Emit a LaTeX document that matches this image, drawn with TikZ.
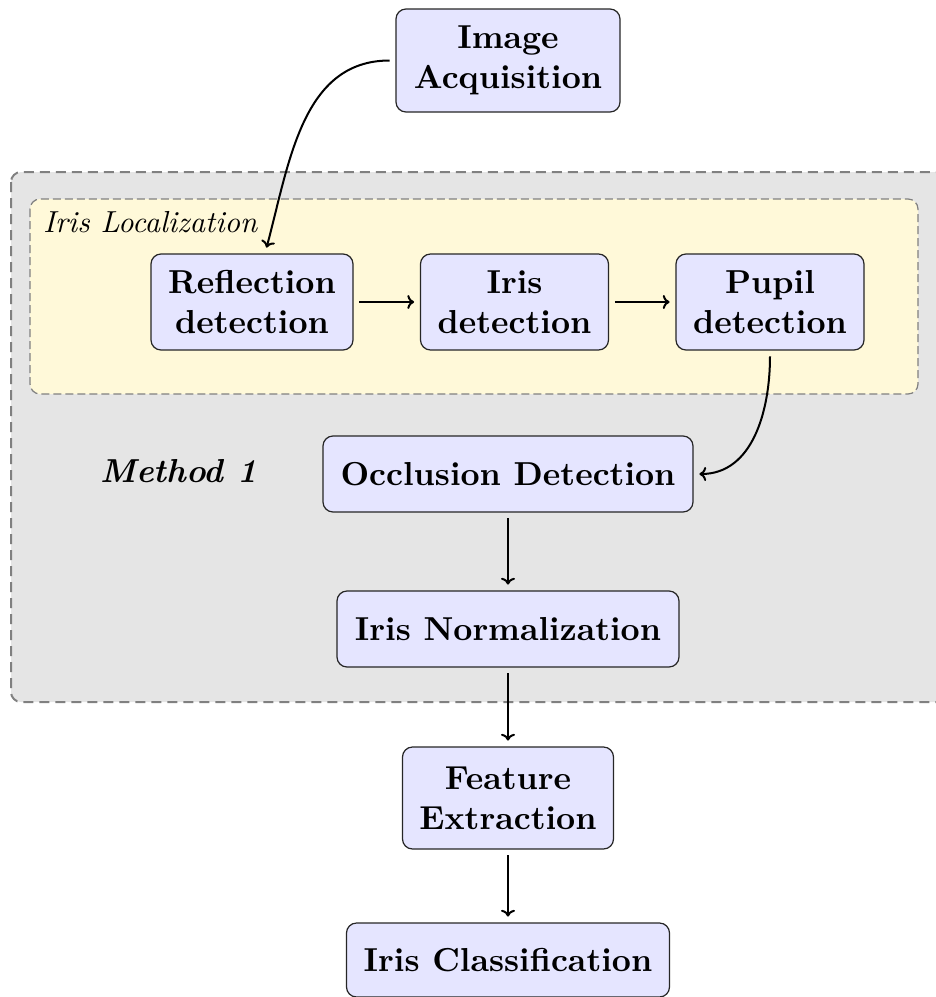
\documentclass[tikz,border=0pt]{standalone}
\usepackage{fontspec}
\setmainfont{lmroman10-regular.otf}[
  BoldFont=lmroman10-bold.otf,
  ItalicFont=lmroman10-italic.otf,
  BoldItalicFont=lmroman10-bolditalic.otf]
\usetikzlibrary{arrows.meta}
\definecolor{locfill}{HTML}{FFF9D9}
\begin{document}
\begin{tikzpicture}[x=0.5pt,y=-0.5pt,
  stage/.style={draw=black!85, line width=0.6pt, fill=blue!10, rounded corners=5pt,
    align=center, inner sep=0pt, outer sep=3.2pt,
    font=\fontsize{16.6}{20}\selectfont\bfseries},
  flow/.style={-{Computer Modern Rightarrow[width=7pt,length=3.4pt]}, line width=1pt},
  methodbox/.style={draw=gray, fill=gray!20, line width=1pt, rounded corners=5pt,
    dash pattern=on 5pt off 3pt},
  locbox/.style={draw=gray, fill=locfill, line width=0.6pt, rounded corners=5pt,
    dash pattern=on 4pt off 2pt}]
\useasboundingbox (0,0) rectangle (936,997);
\clip (0,0) rectangle (936,997);

% grouping panels
\draw[methodbox] (11,172) rectangle (960,702);
\draw[locbox] (30,199) rectangle (918,394);
\node[anchor=base west, inner sep=0pt, font=\fontsize{15.2}{18}\selectfont\itshape] (loclabel) at (43,232) {Iris Localization};
\node[anchor=base west, inner sep=0pt, font=\fontsize{16.6}{20}\selectfont\bfseries\itshape] (methodlabel) at (100,482) {Method 1};

% processing stages
\node[stage, minimum width=112pt, minimum height=51.5pt] (acq) at (508,60.5) {Image\\Acquisition};
\node[stage, minimum width=101pt, minimum height=48pt] (refl) at (252,302) {Reflection\\detection};
\node[stage, minimum width=94pt, minimum height=48pt] (irisd) at (514.5,302) {Iris\\detection};
\node[stage, minimum width=94pt, minimum height=48pt] (pupil) at (770,302) {Pupil\\detection};
\node[stage, minimum width=185pt, minimum height=38pt] (occl) at (508,474) {Occlusion Detection};
\node[stage, minimum width=171pt, minimum height=38pt] (norm) at (508,629) {Iris Normalization};
\node[stage, minimum width=105.5pt, minimum height=51pt] (feat) at (508,798) {Feature\\Extraction};
\node[stage, minimum width=161.5pt, minimum height=37pt] (cls) at (508,960) {Iris Classification};

% connections
\draw[flow] (acq) to[out=180, in=75] (refl);
\draw[flow] (refl) -- (irisd);
\draw[flow] (irisd) -- (pupil);
\draw[flow] (pupil) to[out=270, in=0] (occl);
\draw[flow] (occl) -- (norm);
\draw[flow] (norm) -- (feat);
\draw[flow] (feat) -- (cls);
\end{tikzpicture}
\end{document}
